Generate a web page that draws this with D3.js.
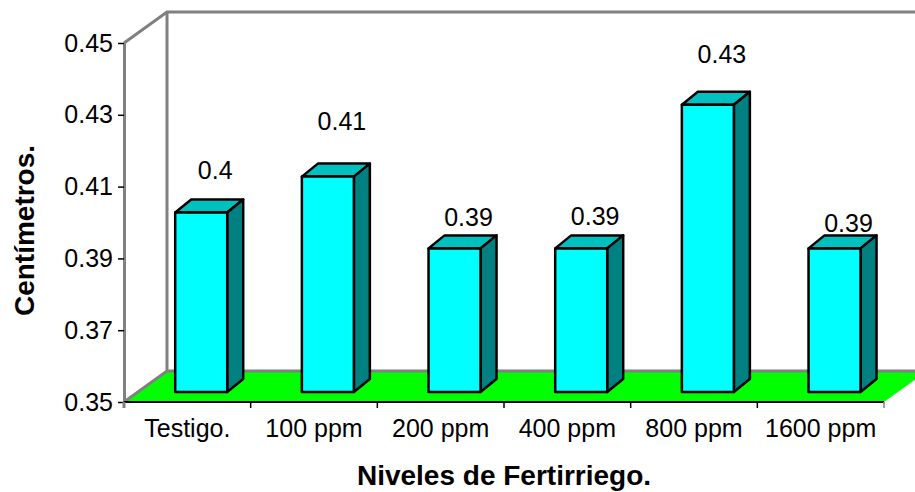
<!DOCTYPE html>
<html>
<head>
<meta charset="utf-8">
<script src="https://cdn.jsdelivr.net/npm/d3@7/dist/d3.min.js"></script>
<style>
  html, body { margin: 0; padding: 0; background: #fff; }
  svg { display: block; font-family: 'Liberation Sans', Arial, sans-serif; }
</style>
</head>
<body>
<div id="chart"></div>
<script>
const categories = ['Testigo.', '100 ppm', '200 ppm', '400 ppm', '800 ppm', '1600 ppm']
const values = [0.40, 0.41, 0.39, 0.39, 0.43, 0.39]
const valueLabels = ['0.4', '0.41', '0.39', '0.39', '0.43', '0.39']
const yTicks = [0.35, 0.37, 0.39, 0.41, 0.43, 0.45]

// excel nudges each 3d label differently, px above the bar's back edge
const labelLift = [21, 34, 9, 10, 29, 3]

const width = 915
const height = 492
const margin = { top: 43, right: 31, bottom: 90, left: 124 }
const depth = { dx: 43, dy: -31 }       // floor / wall depth
const barDepth = { dx: 16, dy: -13 }
const barFront = 10 / 31                // bar front sits this far into the floor
const barWidth = 52

const svg = d3.select('#chart')
  .append('svg')
  .attr('width', width)
  .attr('height', height)

const x = d3.scaleBand()
  .domain(categories)
  .range([margin.left, width - margin.right])
  .paddingInner(0)
  .paddingOuter(0)

const y = d3.scaleLinear()
  .domain([0.35, 0.45])
  .range([height - margin.bottom, margin.top])

const x0 = x.range()[0]
const x1 = x.range()[1]
const yb = y(0.35)
const yt = y(0.45)

// floor
svg.append('path')
  .attr('d', `M${x0},${yb} L${x1},${yb} L${x1 + depth.dx},${yb + depth.dy} L${x0 + depth.dx},${yb + depth.dy} Z`)
  .attr('fill', '#00ff00')

// walls
const gray = '#808080'
svg.append('path')
  .attr('d', `M${x0},${yb} L${x0 + depth.dx},${yb + depth.dy} L${x1 + depth.dx},${yb + depth.dy}`)
  .attr('fill', 'none')
  .attr('stroke', gray)
  .attr('stroke-width', 3)
svg.append('path')
  .attr('d', `M${x0},${yt} L${x0 + depth.dx},${yt + depth.dy} L${x1 + depth.dx},${yt + depth.dy}
              M${x0 + depth.dx},${yt + depth.dy} L${x0 + depth.dx},${yb + depth.dy}`)
  .attr('fill', 'none')
  .attr('stroke', gray)
  .attr('stroke-width', 3)

// bars
const offX = depth.dx * barFront
const offY = depth.dy * barFront
const bars = svg.append('g')
  .selectAll('g')
  .data(categories.map((c, i) => ({ c, v: values[i], label: valueLabels[i], lift: labelLift[i] })))
  .join('g')

bars.each(function(d) {
  const g = d3.select(this)
  const left = x(d.c) + (x.bandwidth() - barWidth) / 2 + offX
  const right = left + barWidth
  const top = y(d.v) + offY
  const bottom = yb + offY
  const bx = barDepth.dx
  const by = barDepth.dy

  g.append('path')
    .attr('d', `M${left},${top} L${left + bx},${top + by} L${right + bx},${top + by} L${right},${top} Z`)
    .attr('fill', '#00c0c0')
  g.append('path')
    .attr('d', `M${right},${top} L${right + bx},${top + by} L${right + bx},${bottom + by} L${right},${bottom} Z`)
    .attr('fill', '#008080')
  g.append('rect')
    .attr('x', left)
    .attr('y', top)
    .attr('width', barWidth)
    .attr('height', bottom - top)
    .attr('fill', '#00ffff')

  g.selectAll('path, rect')
    .attr('stroke', '#000')
    .attr('stroke-width', 2.5)
    .attr('stroke-linejoin', 'round')

  g.append('text')
    .attr('x', left + barWidth / 2 + 14)
    .attr('y', top + by - d.lift)
    .attr('text-anchor', 'middle')
    .attr('font-size', 25)
    .attr('fill', '#000')
    .text(d.label)
})

// y axis
const yAxis = svg.append('g')
  .attr('transform', `translate(${x0},0)`)
  .call(d3.axisLeft(y).tickValues(yTicks).tickFormat(d3.format('.2f')).tickSize(6).tickSizeOuter(0).tickPadding(5))
yAxis.select('.domain').attr('stroke', gray).attr('stroke-width', 3)
yAxis.selectAll('.tick line').attr('stroke', '#000').attr('stroke-width', 1.5)
yAxis.selectAll('.tick text')
  .attr('font-size', 25)
  .attr('font-family', 'Liberation Sans, Arial, sans-serif')
  .attr('fill', '#000')

// x axis
const xAxis = svg.append('g')
  .attr('transform', `translate(0,${yb})`)
xAxis.append('line')
  .attr('x1', x0).attr('x2', x1)
  .attr('stroke', '#000').attr('stroke-width', 2)
xAxis.selectAll('line.tick')
  .data(categories.slice(1).map(c => x(c)).concat([x1]))
  .join('line')
  .attr('class', 'tick')
  .attr('x1', d => d).attr('x2', d => d)
  .attr('y1', 0).attr('y2', 6)
  .attr('stroke', (d, i, n) => i === n.length - 1 ? gray : '#000')
  .attr('stroke-width', 1.5)
xAxis.append('line')
  .attr('x1', x0).attr('x2', x0)
  .attr('y1', 0).attr('y2', 6)
  .attr('stroke', gray).attr('stroke-width', 3)
xAxis.selectAll('text')
  .data(categories)
  .join('text')
  .attr('x', d => x(d) + x.bandwidth() / 2)
  .attr('y', 35)
  .attr('text-anchor', 'middle')
  .attr('font-size', 25)
  .text(d => d)

// axis titles
svg.append('text')
  .attr('x', (x0 + x1) / 2)
  .attr('y', 485)
  .attr('text-anchor', 'middle')
  .attr('font-size', 28)
  .attr('font-weight', 'bold')
  .text('Niveles de Fertirriego.')

svg.append('text')
  .attr('transform', `translate(34,${(yt + yb) / 2 + 8}) rotate(-90)`)
  .attr('text-anchor', 'middle')
  .attr('font-size', 28)
  .attr('font-weight', 'bold')
  .text('Centímetros.')
</script>
</body>
</html>
